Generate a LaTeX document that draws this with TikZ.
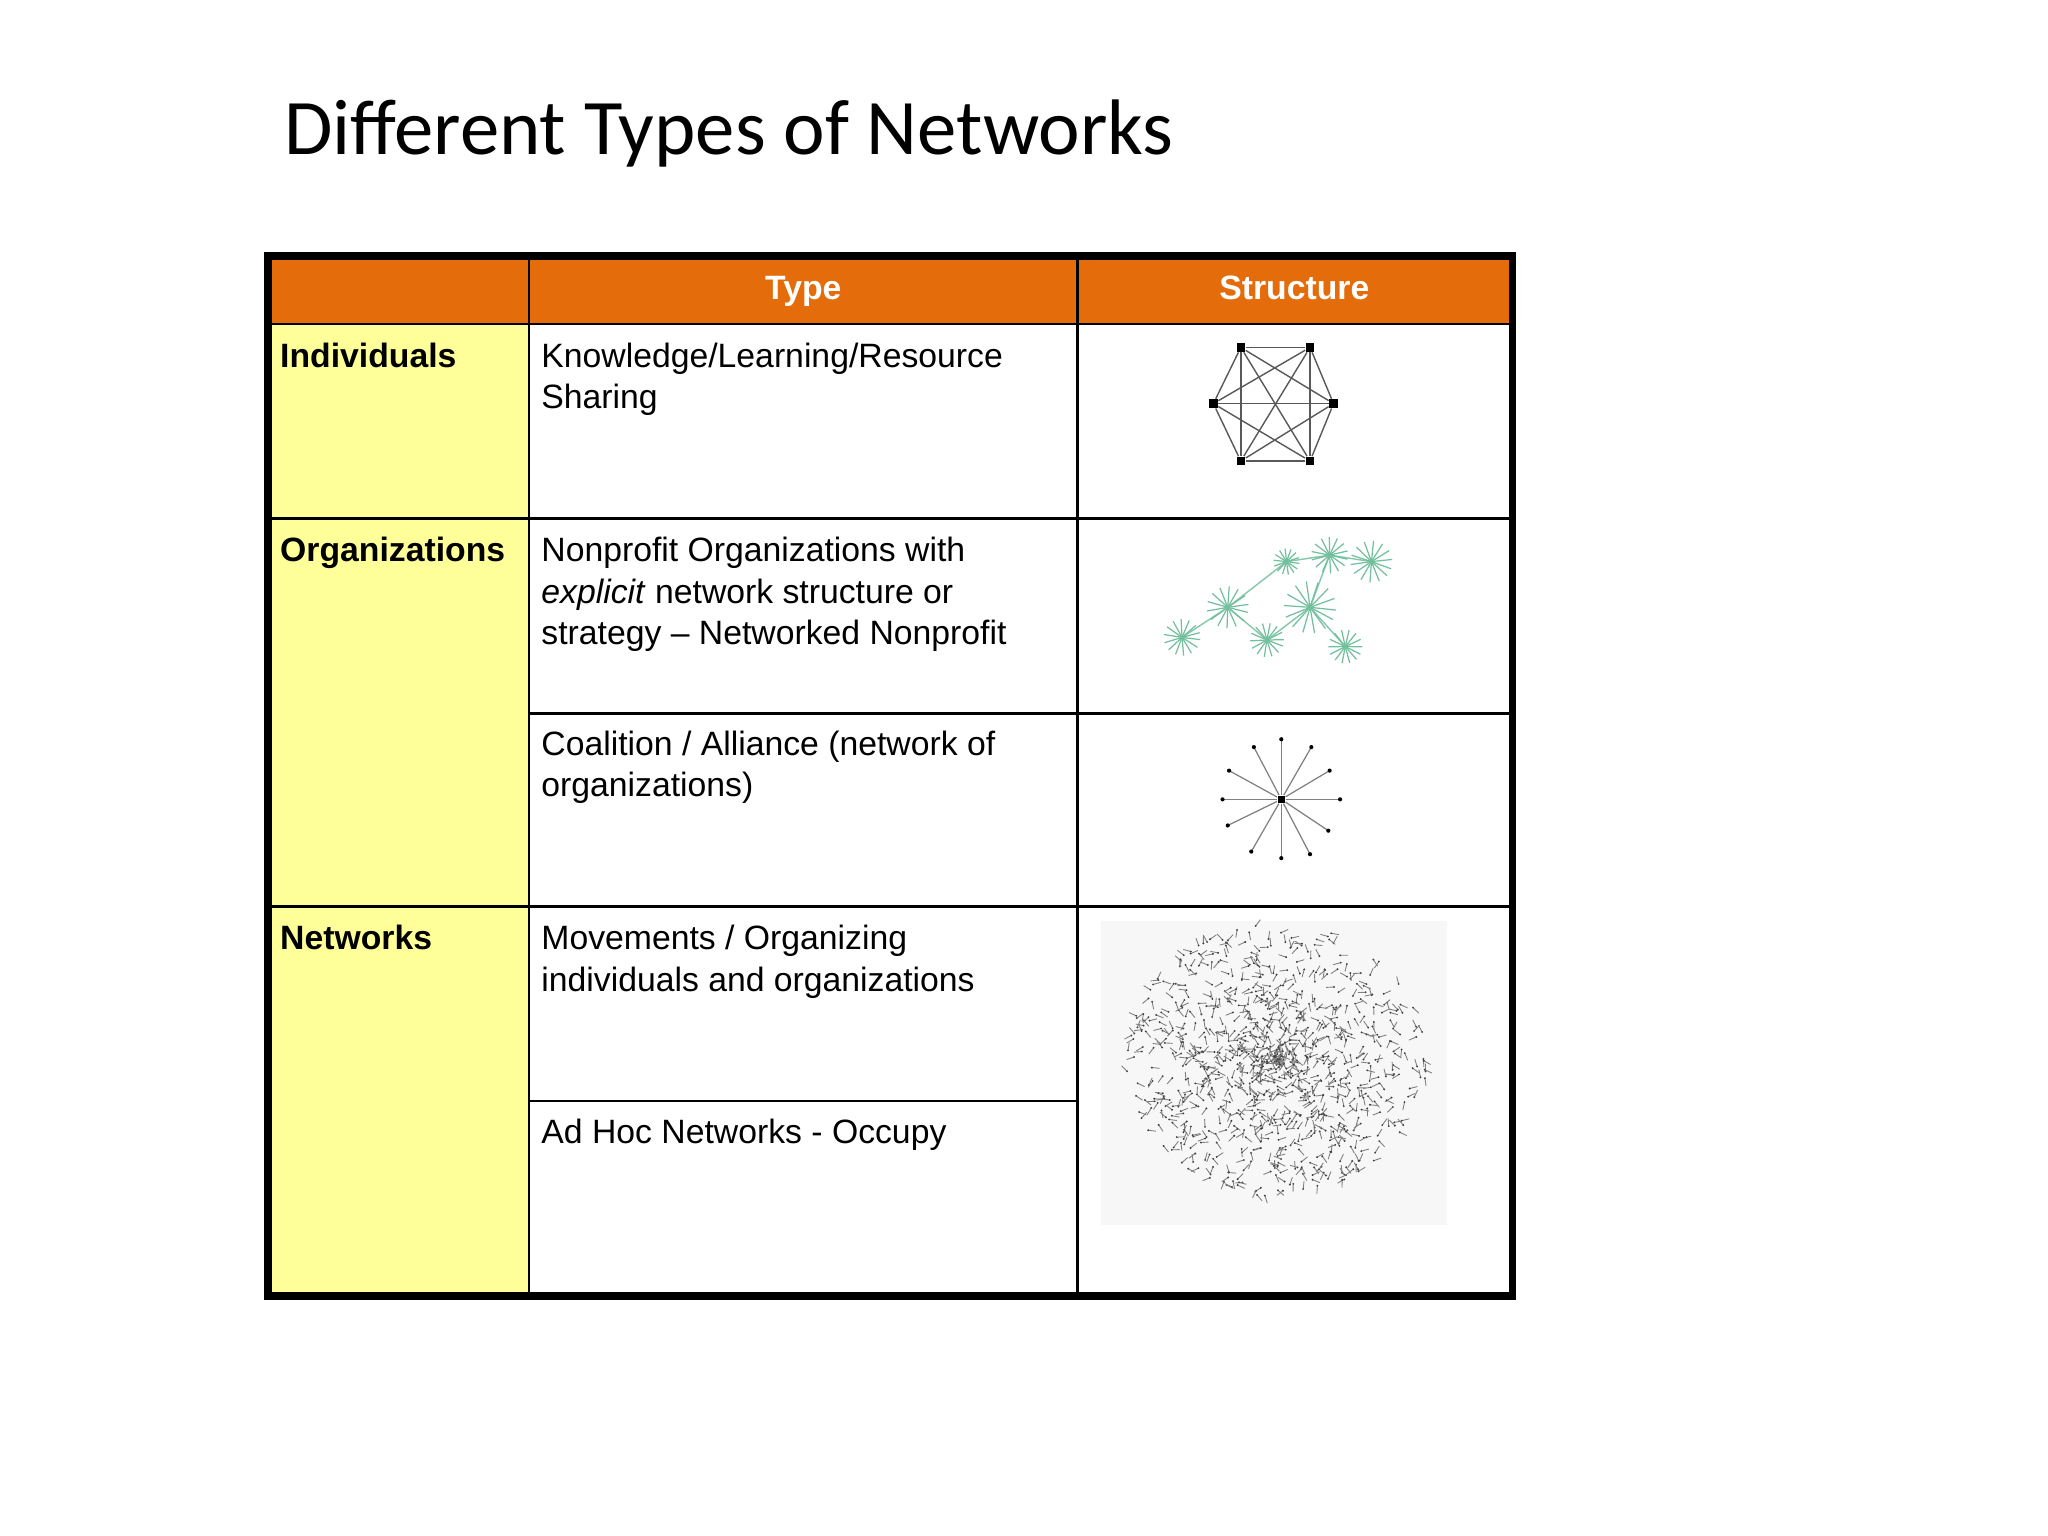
\documentclass[tikz,border=0pt]{standalone}
\usepackage{fontspec}
\setmainfont{Liberation Sans}
\newfontfamily\titlefont{Carlito}
\definecolor{hdr}{HTML}{E46C0A}
\definecolor{yel}{HTML}{FFFF99}
\definecolor{grn}{HTML}{4FAF85}
\begin{document}
\begin{tikzpicture}[x=0.01306cm,y=-0.01306cm,
  cell/.style={anchor=north west,align=left,font=\fontsize{9.6}{11.8}\selectfont,inner sep=0pt},
  hd/.style={anchor=base,font=\fontsize{9.6}{12}\selectfont\bfseries,text=white},
  vtx/.style={fill=black,inner sep=0pt,minimum size=2.4pt,rectangle}]
\useasboundingbox (0,0) rectangle (1568,1176);
\fill[white] (0,0) rectangle (1568,1176);
\node[anchor=base west,inner sep=0pt,font=\titlefont\fontsize{22.4}{24}\selectfont] (title) at (217,118) {Different Types of Networks};
% backgrounds
\fill[hdr] (205,196) rectangle (1158,248);
\fill[yel] (205,248) rectangle (405,992);
% grid
\draw[line width=0.8pt] (405,196) -- (405,992) (825,196) -- (825,992);
\draw[line width=0.8pt] (205,248) -- (1158,248) (205,397) -- (1158,397) (405,546) -- (1158,546) (205,694) -- (1158,694) (405,843) -- (825,843);
\draw[line width=2.2pt] (205,196) rectangle (1158,992);
% header
\node[hd] (h1) at (615,229) {Type};
\node[hd] (h2) at (991,229) {Structure};
% texts
\node[cell,font=\fontsize{9.6}{11.8}\selectfont\bfseries] (r1) at (214,262) {Individuals};
\node[cell,font=\fontsize{9.6}{11.8}\selectfont\bfseries] (r2) at (214,411) {Organizations};
\node[cell,font=\fontsize{9.6}{11.8}\selectfont\bfseries] (r3) at (214,708) {Networks};
\node[cell] (t1) at (414,262) {Knowledge/Learning/Resource\\Sharing};
\node[cell] (t2) at (414,411) {Nonprofit Organizations with\\\textit{explicit} network structure or\\strategy -- Networked Nonprofit};
\node[cell] (t3) at (414,559) {Coalition / Alliance (network of\\organizations)};
\node[cell] (t4) at (414,708) {Movements / Organizing\\individuals and organizations};
\node[cell] (t5) at (414,856) {Ad Hoc Networks - Occupy};
% K6
\node[vtx] (k1) at (950,266) {};
\node[vtx] (k2) at (1003,266) {};
\node[vtx] (k3) at (1021,309) {};
\node[vtx] (k4) at (1003,353) {};
\node[vtx] (k5) at (950,353) {};
\node[vtx] (k6) at (929,309) {};
\foreach \a in {1,...,6}{\foreach \b in {1,...,6}{\ifnum\a<\b \draw[gray!70!black,line width=0.4pt] (k\a)--(k\b);\fi}}
% star
\node[vtx,minimum size=2pt] (sc) at (981,612) {};
\foreach \p in {{(981,566)},{(1004,572)},{(1018,590)},{(1026,612)},{(1017,636)},{(1003,654)},{(981,657)},{(958,652)},{(940,632)},{(936,612)},{(941,590)},{(960,572)}}
  {\draw[gray,line width=0.35pt] (sc)--\p; \fill \p circle (1.6);}
% green network
\node[inner sep=0pt] (g1) at (905,488) {};
\node[inner sep=0pt] (g2) at (940,465) {};
\node[inner sep=0pt] (g3) at (970,490) {};
\node[inner sep=0pt] (g4) at (1003,465) {};
\node[inner sep=0pt] (g5) at (1018,425) {};
\node[inner sep=0pt] (g6) at (1050,430) {};
\node[inner sep=0pt] (g7) at (1030,495) {};
\node[inner sep=0pt] (g8) at (985,430) {};
\draw[grn!70,line width=0.4pt] (g1)--(g2)--(g3)--(g4)--(g5)--(g6) (g4)--(g7) (g2)--(g8)--(g5);
\foreach \i/\r in {1/14,2/16,3/13,4/20,5/14,6/16,7/13,8/10}
  {\foreach \k in {0,...,13}{\draw[grn!80,line width=0.35pt] (g\i.center) -- ++({\k*26+7*\i}:\r);}}
% big network
\fill[gray!6] (843,705) rectangle (1108,938);
\pgfmathsetseed{7}
\foreach \n in {1,...,1000}{
  \pgfmathsetmacro\ang{360*rnd}
  \pgfmathsetmacro\rad{110*rnd^0.8}
  \pgfmathsetmacro\px{978+1.05*\rad*cos(\ang)}
  \pgfmathsetmacro\py{812+0.95*\rad*sin(\ang)}
  \pgfmathsetmacro\qa{360*rnd}
  \draw[black!50,line width=0.25pt] (\px,\py) -- ++(\qa:6);
  \fill[black!75] (\px,\py) circle (0.8);
}
\end{tikzpicture}
\end{document}
